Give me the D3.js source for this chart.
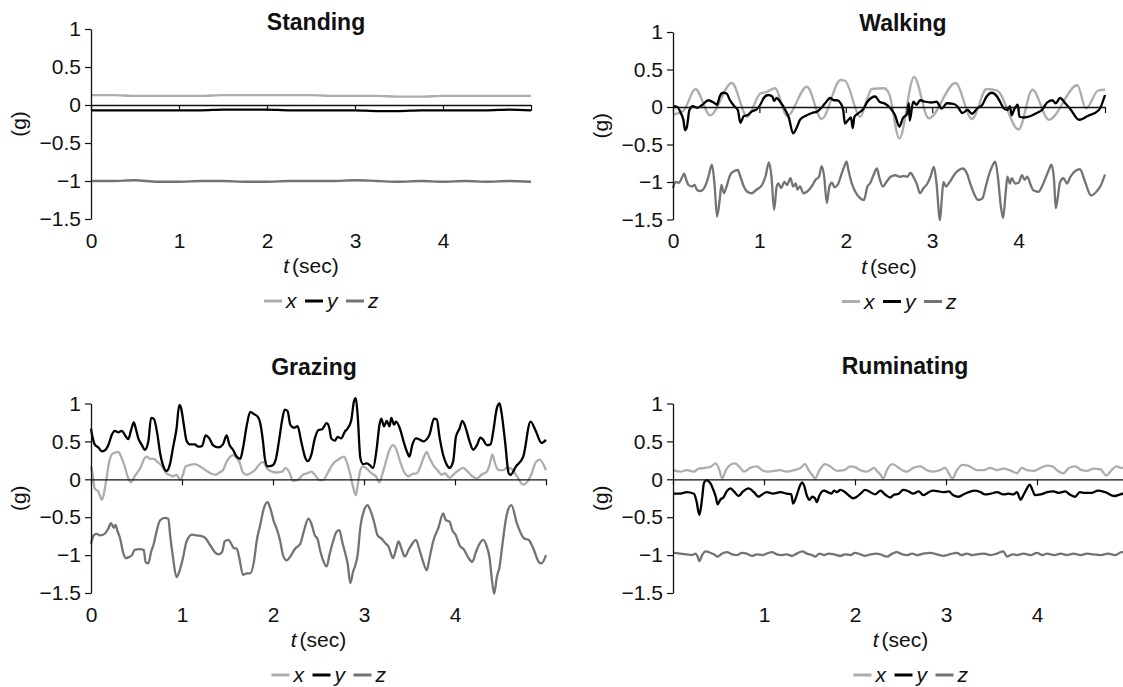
<!DOCTYPE html>
<html>
<head>
<meta charset="utf-8">
<script src="https://cdnjs.cloudflare.com/ajax/libs/d3/7.8.5/d3.min.js"></script>
<style>
  body { margin: 0; background: #fff; }
  svg { display: block; font-family: "Liberation Sans", Arial, Helvetica, sans-serif; }
</style>
</head>
<body>
<div id="chart"></div>
<script>
// acceleration traces, [t (sec), g]

var standingX = [[0,0.13],[0.25,0.13],[0.5,0.12],[0.75,0.12],[1,0.12],[1.25,0.12],[1.5,0.13],[1.75,0.13],[2,0.13],[2.25,0.13],[2.5,0.13],[2.75,0.12],[3,0.12],[3.25,0.12],[3.5,0.11],[3.75,0.11],[4,0.12],[4.25,0.12],[4.5,0.12],[4.75,0.12],[5,0.12]];
var standingY = [[0,-0.07],[0.25,-0.07],[0.5,-0.07],[0.75,-0.07],[1,-0.07],[1.25,-0.07],[1.5,-0.06],[1.75,-0.06],[2,-0.06],[2.25,-0.07],[2.5,-0.07],[2.75,-0.07],[3,-0.07],[3.25,-0.08],[3.5,-0.08],[3.75,-0.07],[4,-0.07],[4.25,-0.07],[4.5,-0.07],[4.75,-0.06],[5,-0.07]];
var standingZ = [[0,-1.0],[0.25,-1.0],[0.5,-0.99],[0.75,-1.01],[1,-1.01],[1.25,-1.0],[1.5,-1.0],[1.75,-1.01],[2,-1.01],[2.25,-1.0],[2.5,-1.0],[2.75,-1.0],[3,-0.99],[3.25,-1.0],[3.5,-1.01],[3.75,-1.0],[4,-1.01],[4.25,-1.0],[4.5,-1.01],[4.75,-1.0],[5,-1.01]];

var walkingX = [[0,-0.1],[0.12,-0.05],[0.26,0.24],[0.43,-0.11],[0.68,0.32],[0.86,-0.13],[1.01,0.18],[1.08,0.2],[1.18,0.25],[1.32,-0.12],[1.55,0.27],[1.72,-0.16],[1.94,0.36],[1.99,0.35],[2.17,-0.13],[2.25,0.12],[2.3,0.24],[2.44,0.25],[2.5,0.18],[2.62,-0.42],[2.79,0.4],[2.96,-0.15],[3.27,0.32],[3.46,-0.16],[3.63,0.24],[3.75,0.22],[4.0,-0.3],[4.16,0.23],[4.35,-0.17],[4.68,0.29],[4.78,-0.02],[4.92,0.22],[5.0,0.23]];
var walkingY = [[0,0.01],[0.05,0],[0.09,-0.08],[0.12,-0.17],[0.14,-0.31],[0.16,-0.27],[0.19,-0.04],[0.23,0.01],[0.28,-0.01],[0.34,0.03],[0.41,0.09],[0.47,0.06],[0.51,0.03],[0.54,0.14],[0.58,0.19],[0.62,0.18],[0.66,0.09],[0.71,0.01],[0.75,-0.04],[0.78,-0.21],[0.82,-0.12],[0.86,-0.11],[0.91,-0.06],[0.97,-0.03],[1.01,0.03],[1.05,0.12],[1.1,0.16],[1.15,0.14],[1.17,0.08],[1.2,0.12],[1.24,0.07],[1.3,-0.04],[1.34,-0.14],[1.39,-0.35],[1.43,-0.28],[1.47,-0.17],[1.55,-0.11],[1.61,-0.08],[1.67,-0.06],[1.71,-0.02],[1.76,0.05],[1.82,0.12],[1.86,0.09],[1.9,0.09],[1.94,0.05],[1.97,-0.04],[1.99,-0.22],[2.03,-0.17],[2.06,-0.14],[2.08,-0.28],[2.1,-0.13],[2.15,-0.08],[2.2,-0.03],[2.25,0.07],[2.34,0.14],[2.39,0.07],[2.46,0.04],[2.52,-0.02],[2.57,-0.11],[2.62,-0.26],[2.66,-0.15],[2.71,-0.09],[2.73,0.05],[2.74,-0.18],[2.78,0.07],[2.82,0.03],[2.86,0.09],[2.92,0.07],[2.99,0.06],[3.05,0.07],[3.11,-0.02],[3.17,0.05],[3.25,0.04],[3.29,0.01],[3.35,-0.08],[3.41,-0.04],[3.46,-0.09],[3.52,-0.02],[3.58,0.03],[3.63,0.14],[3.69,0.19],[3.75,0.14],[3.79,0.06],[3.83,-0.02],[3.87,-0.04],[3.9,0.01],[3.92,-0.11],[3.95,-0.03],[3.99,0.03],[4.01,-0.13],[4.06,-0.14],[4.14,-0.12],[4.21,-0.08],[4.27,-0.04],[4.33,0.06],[4.39,0.09],[4.43,0.05],[4.48,0.12],[4.54,0.05],[4.6,-0.03],[4.7,-0.17],[4.8,-0.12],[4.93,-0.04],[5.0,0.16]];
var walkingZ = [[0,-1.08],[0.03,-1.0],[0.07,-1.01],[0.1,-0.95],[0.13,-0.89],[0.15,-0.96],[0.18,-1.04],[0.22,-1.06],[0.25,-1.04],[0.28,-1.11],[0.32,-1.12],[0.37,-1.06],[0.41,-0.93],[0.45,-0.77],[0.48,-1.02],[0.51,-1.46],[0.54,-1.24],[0.56,-1.04],[0.59,-1.15],[0.62,-1.06],[0.66,-0.91],[0.7,-0.86],[0.75,-0.84],[0.78,-0.93],[0.82,-1.06],[0.86,-1.13],[0.91,-1.15],[0.97,-1.1],[1.03,-1.04],[1.07,-0.93],[1.11,-0.74],[1.14,-0.93],[1.17,-1.37],[1.2,-1.06],[1.22,-1.02],[1.25,-1.08],[1.29,-1.0],[1.32,-1.04],[1.36,-0.95],[1.39,-1.06],[1.42,-1.02],[1.44,-1.1],[1.47,-1.06],[1.51,-1.15],[1.55,-1.13],[1.61,-1.05],[1.65,-0.97],[1.69,-0.93],[1.72,-0.79],[1.75,-0.93],[1.78,-1.28],[1.81,-1.06],[1.84,-1.01],[1.87,-1.07],[1.91,-1.03],[1.94,-0.93],[1.98,-0.8],[2.01,-0.73],[2.03,-0.84],[2.07,-1.02],[2.11,-1.13],[2.17,-1.22],[2.21,-1.24],[2.25,-1.06],[2.28,-1.02],[2.32,-0.91],[2.36,-0.82],[2.39,-0.95],[2.43,-1.06],[2.47,-1.0],[2.52,-0.93],[2.57,-0.91],[2.63,-0.93],[2.67,-0.92],[2.71,-0.93],[2.75,-0.88],[2.79,-0.95],[2.82,-1.02],[2.86,-1.15],[2.9,-1.08],[2.94,-1.03],[2.98,-0.93],[3.02,-0.8],[3.05,-1.02],[3.09,-1.51],[3.11,-1.24],[3.13,-1.0],[3.16,-1.06],[3.19,-1.02],[3.23,-0.95],[3.27,-0.88],[3.31,-0.84],[3.35,-0.82],[3.4,-0.88],[3.44,-1.02],[3.49,-1.17],[3.53,-1.24],[3.58,-1.22],[3.62,-1.06],[3.65,-0.93],[3.69,-0.8],[3.73,-0.73],[3.76,-0.93],[3.79,-1.28],[3.82,-1.48],[3.85,-1.15],[3.87,-0.93],[3.9,-1.02],[3.92,-0.95],[3.96,-1.02],[4.0,-1.01],[4.04,-0.91],[4.07,-0.97],[4.1,-0.93],[4.14,-1.04],[4.17,-1.11],[4.23,-1.13],[4.27,-1.06],[4.31,-0.95],[4.35,-0.84],[4.38,-0.77],[4.41,-0.97],[4.43,-1.35],[4.46,-1.15],[4.48,-1.0],[4.52,-0.95],[4.56,-1.02],[4.6,-0.93],[4.66,-0.85],[4.71,-0.83],[4.77,-1.0],[4.84,-1.18],[4.9,-1.13],[4.95,-1.05],[5.0,-0.9]];

var grazingX = [[0,0.17],[0.02,0.06],[0.04,-0.12],[0.08,-0.16],[0.12,-0.27],[0.14,-0.2],[0.17,0.01],[0.2,0.23],[0.24,0.34],[0.3,0.36],[0.33,0.3],[0.37,0.17],[0.41,0.01],[0.44,-0.04],[0.48,0.04],[0.51,0.09],[0.55,0.17],[0.58,0.26],[0.61,0.3],[0.65,0.27],[0.69,0.27],[0.73,0.23],[0.78,0.17],[0.82,0.09],[0.86,0.06],[0.9,0.04],[0.94,0.06],[0.98,-0.01],[1.01,0.06],[1.04,0.17],[1.09,0.19],[1.14,0.2],[1.2,0.17],[1.26,0.12],[1.33,0.07],[1.37,0.06],[1.41,0.09],[1.45,0.12],[1.49,0.23],[1.53,0.3],[1.56,0.32],[1.6,0.28],[1.63,0.23],[1.67,0.09],[1.71,0.06],[1.75,0.08],[1.8,0.12],[1.86,0.21],[1.89,0.23],[1.93,0.15],[1.97,0.11],[2.04,0.09],[2.1,0.1],[2.14,0.15],[2.18,0.09],[2.22,-0.02],[2.27,-0.01],[2.33,0.06],[2.38,0.08],[2.42,0.1],[2.46,0.06],[2.51,-0.01],[2.55,-0.01],[2.6,0.08],[2.64,0.17],[2.68,0.23],[2.73,0.27],[2.78,0.3],[2.81,0.23],[2.85,0.06],[2.88,-0.1],[2.91,-0.21],[2.93,-0.08],[2.96,0.12],[2.99,0.17],[3.03,0.14],[3.08,0.08],[3.13,0.04],[3.17,-0.04],[3.2,0.06],[3.24,0.23],[3.28,0.39],[3.32,0.45],[3.35,0.41],[3.39,0.26],[3.44,0.1],[3.49,0.04],[3.53,0.07],[3.58,0.08],[3.62,0.17],[3.66,0.3],[3.69,0.36],[3.72,0.28],[3.77,0.17],[3.81,0.12],[3.85,0.06],[3.89,0.08],[3.94,0.02],[3.98,0.06],[4.04,0.12],[4.09,0.15],[4.14,0.1],[4.19,0.04],[4.24,0.01],[4.29,0.06],[4.35,0.1],[4.38,0.19],[4.41,0.33],[4.44,0.21],[4.48,0.12],[4.53,0.12],[4.57,0.15],[4.62,0.14],[4.68,0.04],[4.75,-0.07],[4.83,0.04],[4.89,0.23],[4.93,0.26],[5.0,0.12]];
var grazingY = [[0,0.67],[0.02,0.54],[0.04,0.46],[0.08,0.42],[0.12,0.37],[0.15,0.38],[0.19,0.45],[0.23,0.59],[0.26,0.64],[0.3,0.62],[0.34,0.64],[0.37,0.59],[0.41,0.53],[0.44,0.65],[0.47,0.75],[0.49,0.68],[0.52,0.54],[0.56,0.45],[0.59,0.39],[0.63,0.5],[0.66,0.81],[0.69,0.8],[0.73,0.59],[0.76,0.34],[0.79,0.19],[0.83,0.11],[0.87,0.21],[0.9,0.41],[0.94,0.67],[0.97,0.98],[0.99,0.94],[1.02,0.72],[1.05,0.51],[1.09,0.46],[1.14,0.46],[1.18,0.43],[1.22,0.44],[1.26,0.58],[1.3,0.54],[1.34,0.45],[1.4,0.42],[1.45,0.46],[1.49,0.58],[1.52,0.46],[1.56,0.39],[1.6,0.3],[1.64,0.27],[1.67,0.41],[1.71,0.7],[1.75,0.89],[1.79,0.86],[1.83,0.83],[1.86,0.74],[1.89,0.5],[1.91,0.28],[1.94,0.17],[1.99,0.18],[2.03,0.26],[2.07,0.54],[2.1,0.78],[2.13,0.92],[2.16,0.9],[2.19,0.72],[2.23,0.68],[2.27,0.7],[2.31,0.5],[2.35,0.3],[2.38,0.24],[2.42,0.32],[2.46,0.54],[2.5,0.65],[2.54,0.66],[2.59,0.74],[2.62,0.67],[2.64,0.54],[2.68,0.51],[2.71,0.56],[2.75,0.54],[2.79,0.63],[2.82,0.67],[2.86,0.78],[2.89,1.03],[2.91,1.07],[2.93,0.85],[2.96,0.28],[2.99,0.2],[3.03,0.21],[3.07,0.18],[3.1,0.15],[3.14,0.41],[3.17,0.72],[3.19,0.8],[3.22,0.7],[3.25,0.77],[3.28,0.7],[3.3,0.81],[3.33,0.72],[3.35,0.76],[3.4,0.65],[3.43,0.52],[3.47,0.37],[3.5,0.3],[3.53,0.45],[3.57,0.54],[3.62,0.52],[3.65,0.5],[3.69,0.53],[3.72,0.59],[3.77,0.8],[3.8,0.79],[3.83,0.56],[3.87,0.32],[3.91,0.19],[3.94,0.15],[3.98,0.24],[4.01,0.56],[4.05,0.67],[4.08,0.77],[4.12,0.67],[4.16,0.5],[4.2,0.39],[4.24,0.45],[4.28,0.55],[4.31,0.52],[4.35,0.45],[4.39,0.46],[4.42,0.63],[4.46,0.94],[4.49,1.0],[4.51,0.89],[4.55,0.5],[4.59,0.08],[4.61,0.06],[4.67,0.17],[4.75,0.3],[4.83,0.76],[4.89,0.63],[4.95,0.48],[5.0,0.52]];
var grazingZ = [[0,-0.85],[0.03,-0.74],[0.06,-0.72],[0.1,-0.74],[0.15,-0.72],[0.19,-0.65],[0.22,-0.58],[0.25,-0.64],[0.27,-0.6],[0.29,-0.68],[0.32,-0.78],[0.35,-0.95],[0.38,-1.04],[0.41,-1.03],[0.45,-1.0],[0.48,-0.93],[0.53,-0.92],[0.58,-0.93],[0.6,-1.09],[0.63,-1.11],[0.66,-0.96],[0.69,-0.85],[0.72,-0.69],[0.76,-0.54],[0.81,-0.51],[0.85,-0.52],[0.87,-0.74],[0.9,-1.02],[0.94,-1.29],[0.97,-1.22],[1.01,-1.04],[1.05,-0.82],[1.11,-0.73],[1.16,-0.74],[1.22,-0.75],[1.26,-0.78],[1.31,-0.87],[1.36,-0.96],[1.4,-0.99],[1.44,-0.96],[1.47,-0.82],[1.51,-0.8],[1.55,-0.87],[1.57,-0.91],[1.6,-0.91],[1.63,-1.04],[1.67,-1.26],[1.71,-1.24],[1.75,-1.24],[1.79,-1.09],[1.82,-0.82],[1.86,-0.6],[1.9,-0.38],[1.94,-0.3],[1.97,-0.38],[2.01,-0.56],[2.04,-0.65],[2.08,-0.82],[2.11,-1.0],[2.15,-1.07],[2.19,-1.02],[2.24,-0.92],[2.3,-0.85],[2.34,-0.68],[2.39,-0.52],[2.42,-0.58],[2.46,-0.74],[2.49,-0.79],[2.52,-0.95],[2.55,-1.07],[2.59,-1.15],[2.62,-1.0],[2.66,-0.82],[2.7,-0.69],[2.73,-0.67],[2.76,-0.82],[2.79,-0.96],[2.82,-1.11],[2.85,-1.37],[2.88,-1.22],[2.9,-1.15],[2.93,-1.0],[2.96,-0.63],[3.0,-0.41],[3.04,-0.34],[3.07,-0.41],[3.11,-0.56],[3.15,-0.74],[3.19,-0.78],[3.24,-0.85],[3.27,-0.89],[3.29,-0.96],[3.32,-1.04],[3.35,-0.93],[3.38,-0.82],[3.41,-0.91],[3.45,-1.02],[3.49,-0.93],[3.53,-0.85],[3.57,-0.8],[3.61,-0.93],[3.65,-1.09],[3.69,-1.2],[3.72,-1.04],[3.76,-0.82],[3.82,-0.63],[3.87,-0.45],[3.9,-0.54],[3.94,-0.56],[3.97,-0.67],[4.01,-0.74],[4.05,-0.87],[4.1,-0.93],[4.15,-1.04],[4.19,-1.09],[4.23,-0.96],[4.27,-0.85],[4.31,-0.8],[4.35,-0.89],[4.38,-1.04],[4.4,-1.26],[4.43,-1.51],[4.46,-1.29],[4.49,-1.15],[4.52,-0.87],[4.56,-0.52],[4.59,-0.38],[4.62,-0.34],[4.68,-0.58],[4.76,-0.78],[4.81,-0.8],[4.86,-0.91],[4.92,-1.09],[4.95,-1.11],[5.0,-1.0]];

var ruminatingX = [[0,0.12],[0.08,0.1],[0.15,0.12],[0.23,0.1],[0.28,0.14],[0.35,0.15],[0.42,0.17],[0.47,0.21],[0.51,0.12],[0.54,0.01],[0.58,0.12],[0.63,0.19],[0.68,0.21],[0.74,0.15],[0.78,0.1],[0.85,0.15],[0.92,0.17],[0.98,0.12],[1.03,0.1],[1.1,0.11],[1.18,0.12],[1.25,0.1],[1.33,0.12],[1.4,0.15],[1.45,0.2],[1.49,0.12],[1.54,0.04],[1.56,0.01],[1.61,0.12],[1.67,0.2],[1.73,0.17],[1.8,0.11],[1.88,0.12],[1.95,0.17],[2.0,0.16],[2.06,0.12],[2.13,0.1],[2.21,0.15],[2.24,0.11],[2.28,0.06],[2.31,0.01],[2.35,0.12],[2.41,0.2],[2.46,0.17],[2.52,0.12],[2.57,0.1],[2.64,0.15],[2.72,0.17],[2.79,0.12],[2.86,0.1],[2.93,0.12],[2.99,0.15],[3.03,0.08],[3.07,0.01],[3.12,0.12],[3.18,0.19],[3.24,0.18],[3.29,0.15],[3.34,0.12],[3.41,0.12],[3.49,0.15],[3.56,0.12],[3.63,0.14],[3.7,0.12],[3.78,0.08],[3.83,0.15],[3.89,0.12],[3.96,0.11],[4.04,0.15],[4.11,0.18],[4.17,0.17],[4.22,0.12],[4.29,0.08],[4.35,0.15],[4.42,0.17],[4.49,0.12],[4.55,0.11],[4.62,0.14],[4.7,0.13],[4.76,0.05],[4.82,0.12],[4.87,0.17],[4.93,0.15],[5.0,0.15]];
var ruminatingY = [[0,-0.19],[0.08,-0.19],[0.15,-0.17],[0.23,-0.19],[0.26,-0.3],[0.28,-0.43],[0.29,-0.47],[0.32,-0.25],[0.34,-0.05],[0.37,-0.01],[0.41,-0.05],[0.45,-0.16],[0.47,-0.23],[0.49,-0.33],[0.52,-0.27],[0.56,-0.23],[0.59,-0.16],[0.63,-0.12],[0.67,-0.16],[0.72,-0.22],[0.77,-0.16],[0.83,-0.12],[0.89,-0.17],[0.94,-0.23],[0.98,-0.2],[1.03,-0.17],[1.1,-0.19],[1.18,-0.17],[1.25,-0.19],[1.3,-0.2],[1.32,-0.32],[1.36,-0.21],[1.39,-0.1],[1.42,-0.04],[1.44,-0.08],[1.47,-0.21],[1.5,-0.27],[1.53,-0.23],[1.56,-0.25],[1.58,-0.3],[1.61,-0.21],[1.66,-0.15],[1.7,-0.17],[1.74,-0.19],[1.77,-0.15],[1.8,-0.17],[1.84,-0.14],[1.88,-0.16],[1.93,-0.21],[1.98,-0.25],[2.02,-0.23],[2.06,-0.19],[2.11,-0.14],[2.17,-0.17],[2.22,-0.2],[2.28,-0.15],[2.33,-0.2],[2.39,-0.24],[2.42,-0.21],[2.48,-0.19],[2.53,-0.14],[2.59,-0.16],[2.64,-0.19],[2.7,-0.16],[2.75,-0.21],[2.81,-0.17],[2.86,-0.15],[2.92,-0.16],[2.97,-0.17],[3.03,-0.16],[3.08,-0.21],[3.14,-0.23],[3.19,-0.2],[3.25,-0.17],[3.32,-0.15],[3.38,-0.17],[3.43,-0.2],[3.49,-0.19],[3.56,-0.17],[3.63,-0.2],[3.69,-0.19],[3.74,-0.2],[3.78,-0.17],[3.82,-0.27],[3.85,-0.21],[3.89,-0.12],[3.92,-0.07],[3.95,-0.14],[3.98,-0.21],[4.04,-0.2],[4.11,-0.17],[4.18,-0.16],[4.24,-0.18],[4.31,-0.16],[4.36,-0.2],[4.42,-0.23],[4.47,-0.17],[4.53,-0.18],[4.6,-0.18],[4.67,-0.15],[4.75,-0.17],[4.85,-0.22],[4.95,-0.19],[5.0,-0.19]];
var ruminatingZ = [[0,-0.97],[0.08,-0.98],[0.15,-0.99],[0.21,-1.0],[0.25,-0.98],[0.27,-1.02],[0.29,-1.08],[0.32,-1.0],[0.36,-0.95],[0.41,-0.97],[0.45,-0.99],[0.49,-1.02],[0.54,-0.98],[0.59,-0.96],[0.65,-0.99],[0.7,-1.0],[0.76,-0.97],[0.81,-0.98],[0.87,-1.01],[0.92,-0.99],[0.98,-1.0],[1.03,-0.98],[1.09,-0.96],[1.14,-0.99],[1.2,-1.0],[1.25,-0.99],[1.31,-1.01],[1.36,-0.98],[1.42,-0.95],[1.47,-0.98],[1.53,-1.0],[1.56,-1.02],[1.61,-0.98],[1.66,-1.0],[1.71,-0.98],[1.77,-0.99],[1.84,-1.01],[1.89,-0.99],[1.95,-1.0],[2.0,-0.97],[2.06,-0.99],[2.11,-1.01],[2.17,-0.99],[2.24,-0.98],[2.3,-1.0],[2.35,-1.02],[2.41,-0.98],[2.46,-0.96],[2.52,-0.99],[2.57,-1.0],[2.63,-0.98],[2.68,-1.0],[2.75,-0.98],[2.83,-0.97],[2.9,-0.99],[2.97,-1.01],[3.04,-0.99],[3.12,-0.97],[3.17,-1.0],[3.23,-0.98],[3.29,-1.0],[3.34,-0.99],[3.42,-0.98],[3.49,-1.0],[3.56,-0.98],[3.63,-0.95],[3.67,-1.02],[3.73,-0.99],[3.78,-1.0],[3.85,-0.98],[3.93,-1.0],[4.0,-0.97],[4.06,-1.0],[4.11,-0.98],[4.19,-1.0],[4.26,-0.98],[4.33,-1.0],[4.4,-0.98],[4.48,-1.0],[4.55,-0.98],[4.62,-0.99],[4.7,-1.0],[4.78,-0.98],[4.86,-1.0],[4.93,-0.96],[5.0,-0.98]];

var seriesNames = ["x", "y", "z"];
var seriesColors = ["#adadad", "#000000", "#737373"];
var yTickValues = [1, 0.5, 0, -0.5, -1, -1.5];
var yTickLabels = ["1", "0.5", "0", "\u22120.5", "\u22121", "\u22121.5"];
var xTickValues = [0, 1, 2, 3, 4, 5];
var xTickLabels = ["0", "1", "2", "3", "4", ""];

// panel layout (pixel boxes)
var panels = [
  { title: "Standing",   data: [standingX, standingY, standingZ],       left: 91,  right: 531,  top: 29,    bottom: 219,   titleX: 316, titleY: 30,  showZero: true },
  { title: "Walking",    data: [walkingX, walkingY, walkingZ],          left: 673, right: 1105, top: 32,    bottom: 219.5, titleX: 903, titleY: 31,  showZero: true },
  { title: "Grazing",    data: [grazingX, grazingY, grazingZ],          left: 91,  right: 546,  top: 403.5, bottom: 593,   titleX: 314, titleY: 375, showZero: true },
  { title: "Ruminating", data: [ruminatingX, ruminatingY, ruminatingZ], left: 673, right: 1128, top: 403.5, bottom: 593,   titleX: 905, titleY: 374, showZero: false }
];

var svgWidth = 1123;
var svgHeight = 687;

var svg = d3.select("#chart")
  .append("svg")
  .attr("width", svgWidth)
  .attr("height", svgHeight);

svg.append("rect").attr("width", svgWidth).attr("height", svgHeight).attr("fill", "#fff");

panels.forEach(function(p) {
  var xScale = d3.scaleLinear().domain([0, 5]).range([p.left, p.right]);
  var yScale = d3.scaleLinear().domain([-1.5, 1]).range([p.bottom, p.top]);
  var mid = (p.left + p.right) / 2;

  var g = svg.append("g");

  // lines first, axes drawn on top
  var line = d3.line()
    .x(d => xScale(d[0]))
    .y(d => yScale(d[1]))
    .curve(d3.curveMonotoneX);

  p.data.forEach(function(series, i) {
    g.append("path")
      .datum(series)
      .attr("d", line)
      .attr("fill", "none")
      .attr("stroke", seriesColors[i])
      .attr("stroke-width", 2.3)
      .attr("stroke-linejoin", "round");
  });

  // y axis
  var leftAxis = d3.axisLeft(yScale)
    .tickValues(yTickValues)
    .tickFormat((d, i) => yTickLabels[i])
    .tickSize(6)
    .tickSizeOuter(0)
    .tickPadding(4);

  var yAxis = g.append("g")
    .attr("transform", `translate(${p.left},0)`)
    .call(leftAxis);

  // zero line with ticks
  var zeroAxis = d3.axisBottom(xScale)
    .tickValues(xTickValues)
    .tickFormat("")
    .tickSize(6)
    .tickSizeOuter(0);

  var xAxis = g.append("g")
    .attr("transform", `translate(0,${yScale(0)})`)
    .call(zeroAxis);

  // tick labels along the bottom
  var labelAxis = d3.axisBottom(xScale)
    .tickValues(xTickValues)
    .tickFormat((d, i) => (i === 0 && !p.showZero) ? "" : xTickLabels[i])
    .tickSize(0)
    .tickPadding(14);

  var xLabels = g.append("g")
    .attr("transform", `translate(0,${p.bottom})`)
    .call(labelAxis);
  xLabels.select(".domain").remove();

  [yAxis, xAxis, xLabels].forEach(function(a) {
    a.attr("font-size", 21)
      .attr("font-family", null);
    a.selectAll("text").attr("fill", "#111");
    a.selectAll("line").attr("stroke", "#111").attr("stroke-width", 1.2);
    a.select(".domain").attr("stroke", "#111").attr("stroke-width", 1.3);
  });

  // title
  g.append("text")
    .attr("x", p.titleX)
    .attr("y", p.titleY)
    .attr("text-anchor", "middle")
    .attr("font-size", 23)
    .attr("font-weight", "bold")
    .attr("fill", "#111")
    .text(p.title);

  // y label
  g.append("text")
    .attr("transform", `translate(${p.left - 65},${(p.top + p.bottom) / 2}) rotate(-90)`)
    .attr("text-anchor", "middle")
    .attr("font-size", 21)
    .attr("fill", "#111")
    .text("(g)");

  // x label
  var xt = g.append("text")
    .attr("x", mid)
    .attr("y", p.bottom + 54)
    .attr("text-anchor", "middle")
    .attr("font-size", 21)
    .attr("fill", "#111");
  xt.append("tspan").attr("font-style", "italic").text("t");
  xt.append("tspan").attr("dx", 3).text("(sec)");

  // legend
  var legend = g.append("g")
    .attr("transform", `translate(${mid + 10 - 57},${p.bottom + 89})`);

  seriesNames.forEach(function(name, i) {
    var item = legend.append("g").attr("transform", `translate(${i * 41},0)`);
    item.append("line")
      .attr("x1", 0).attr("x2", 18)
      .attr("y1", -7).attr("y2", -7)
      .attr("stroke", seriesColors[i])
      .attr("stroke-width", 3);
    item.append("text")
      .attr("x", 22)
      .attr("font-size", 21)
      .attr("font-style", "italic")
      .attr("fill", "#111")
      .text(name);
  });
});
</script>
</body>
</html>
